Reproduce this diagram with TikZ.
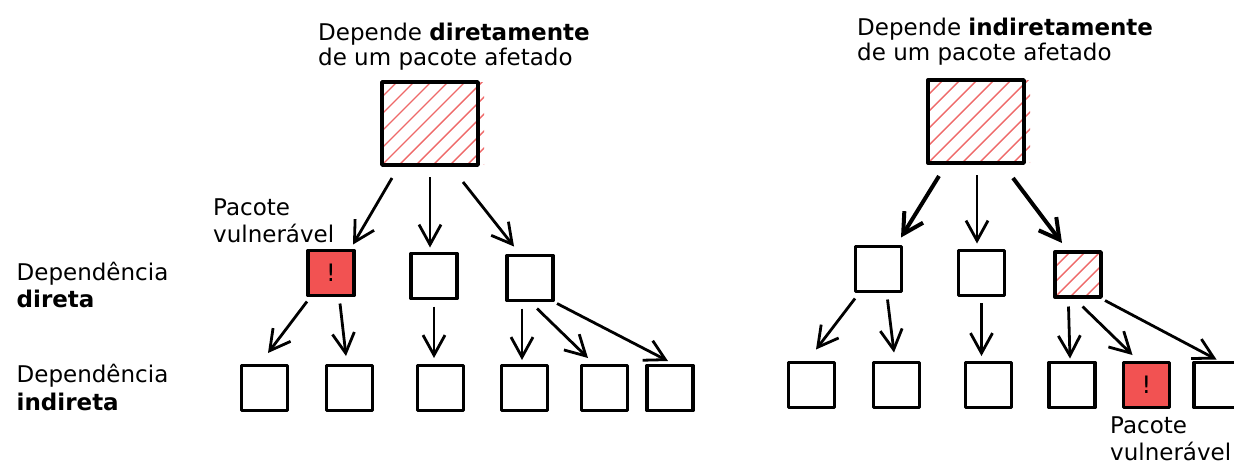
\documentclass[tikz,border=0pt]{standalone}
\usepackage{fontspec}
\setmainfont{DejaVu Sans}
\usetikzlibrary{arrows.meta,calc}
\definecolor{vulnred}{RGB}{242,82,82}
\definecolor{hatchred}{RGB}{238,105,105}
\newcommand\hatchit[3]{%
  \begin{scope}
    \clip ($(#1.south west)+(0,2)$) rectangle ($(#1.north east)+(#3,0)$);
    \foreach \k in {-9,...,9}
      \draw[hatchline] ($(#1.south west)+(\k*#2,0)$) -- ++(140,-140);
  \end{scope}
  \draw[boxline] (#1.south west) rectangle (#1.north east);}
\begin{document}
\begin{tikzpicture}[x=1pt,y=-1pt,
  boxline/.style={line width=3.4pt, line join=round},
  box/.style={draw, line width=3.4pt, line join=round, minimum width=46pt, minimum height=45pt, inner sep=0pt, outer sep=0pt},
  hbox/.style={box, draw=none},
  bigbox/.style={hbox, minimum width=96pt, minimum height=83pt},
  vuln/.style={fill=vulnred, font=\fontsize{24}{24}\selectfont},
  hatchline/.style={hatchred, line width=1.4pt},
  arr/.style={line width=2.8pt, -{Straight Barb[length=20pt,width=22pt]}},
  thickarr/.style={arr, line width=4pt},
  lbl/.style={anchor=base west, inner sep=0pt, text depth=0pt, font=\fontsize{23}{27}\selectfont}]
\useasboundingbox (0,0) rectangle (1234,464);
% ---------- left tree ----------
\node[lbl] (lt1) at (318,40.7) {Depende \textbf{diretamente}};
\node[lbl] (lt2) at (318,65.5) {de um pacote afetado};
\node[lbl] (pv1) at (213,215) {Pacote};
\node[lbl] (pv2) at (213,242.5) {vulnerável};
\node[lbl] (dd1) at (16.5,280) {Dependência};
\node[lbl] (dd2) at (16.5,307.5) {\textbf{direta}};
\node[lbl] (di1) at (16.5,382) {Dependência};
\node[lbl] (di2) at (16.5,410) {\textbf{indireta}};

\node[bigbox] (T1) at (430,123.5) {};
\hatchit{T1}{17}{6}
\node[box, vuln] (D1) at (331,273) {!};
\node[box] (D2) at (434,276) {};
\node[box] (D3) at (530,278) {};
\foreach \n/\x in {B1/264.5, B2/349.5, B3/440.5, B4/524.5, B5/604.5, B6/670}
  \node[box] (\n) at (\x,388) {};

\draw[arr] ($(T1.south)+(-38,13)$) -- ($(D1.north)+(22,-6)$);
\draw[arr] ($(T1.south)+(0,12)$) -- ($(D2.north)+(-4,-6)$);
\draw[arr] ($(T1.south)+(33,17)$) -- ($(D3.north)+(-16,-9)$);
\draw[arr] ($(D1.south)+(-24,6)$) -- ($(B1.north)+(3.5,-12.5)$);
\draw[arr] ($(D1.south)+(9,8)$) -- ($(B2.north)+(-3.5,-9.5)$);
\draw[arr] ($(D2.south)+(0,8)$) -- ($(B3.north)+(-6.5,-7.5)$);
\draw[arr] ($(D3.south)+(-8,8)$) -- ($(B4.north)+(-2.5,-5.5)$);
\draw[arr] ($(D3.south)+(7,8)$) -- ($(B5.north)+(-16.5,-7.5)$);
\draw[arr] ($(D3.south)+(27,3)$) -- ($(B6.north)+(-2,-4.5)$);

% ---------- right tree ----------
\node[lbl] (rt1) at (857,35.7) {Depende \textbf{indiretamente}};
\node[lbl] (rt2) at (857,60.5) {de um pacote afetado};
\node[lbl] (pr1) at (1110,433) {Pacote};
\node[lbl] (pr2) at (1110,460) {vulnerável};

\node[bigbox] (T2) at (976,121.5) {};
\hatchit{T2}{17}{6}
\node[box] (E1) at (878.5,269) {};
\node[box] (E2) at (981.5,273) {};
\node[hbox] (E3) at (1078,274.5) {};
\hatchit{E3}{15}{1}
\foreach \n/\x in {C1/811.5, C2/896.5, C3/988.5, C4/1072, C6/1217}
  \node[box] (\n) at (\x,385) {};
\node[box, vuln] (C5) at (1146.5,385) {!};

\draw[thickarr] ($(T2.south)+(-37,13)$) -- ($(E1.north)+(22.5,-9)$);
\draw[arr] ($(T2.south)+(1,12)$) -- ($(E2.north)+(-4.5,-7)$);
\draw[thickarr] ($(T2.south)+(37,15)$) -- ($(E3.north)+(-16,-9)$);
\draw[arr] ($(E1.south)+(-23.5,7)$) -- ($(C1.north)+(4.5,-13)$);
\draw[arr] ($(E1.south)+(9,8)$) -- ($(C2.north)+(-2.5,-10)$);
\draw[arr] ($(E2.south)+(0,7.5)$) -- ($(C3.north)+(-7,-6.5)$);
\draw[arr] ($(E3.south)+(-9.5,9.5)$) -- ($(C4.north)+(-2,-4)$);
\draw[arr] ($(E3.south)+(4.5,9.5)$) -- ($(C5.north)+(-14,-7.5)$);
\draw[arr] ($(E3.south)+(27,3.5)$) -- ($(C6.north)+(-0.5,-3)$);
\end{tikzpicture}
\end{document}
